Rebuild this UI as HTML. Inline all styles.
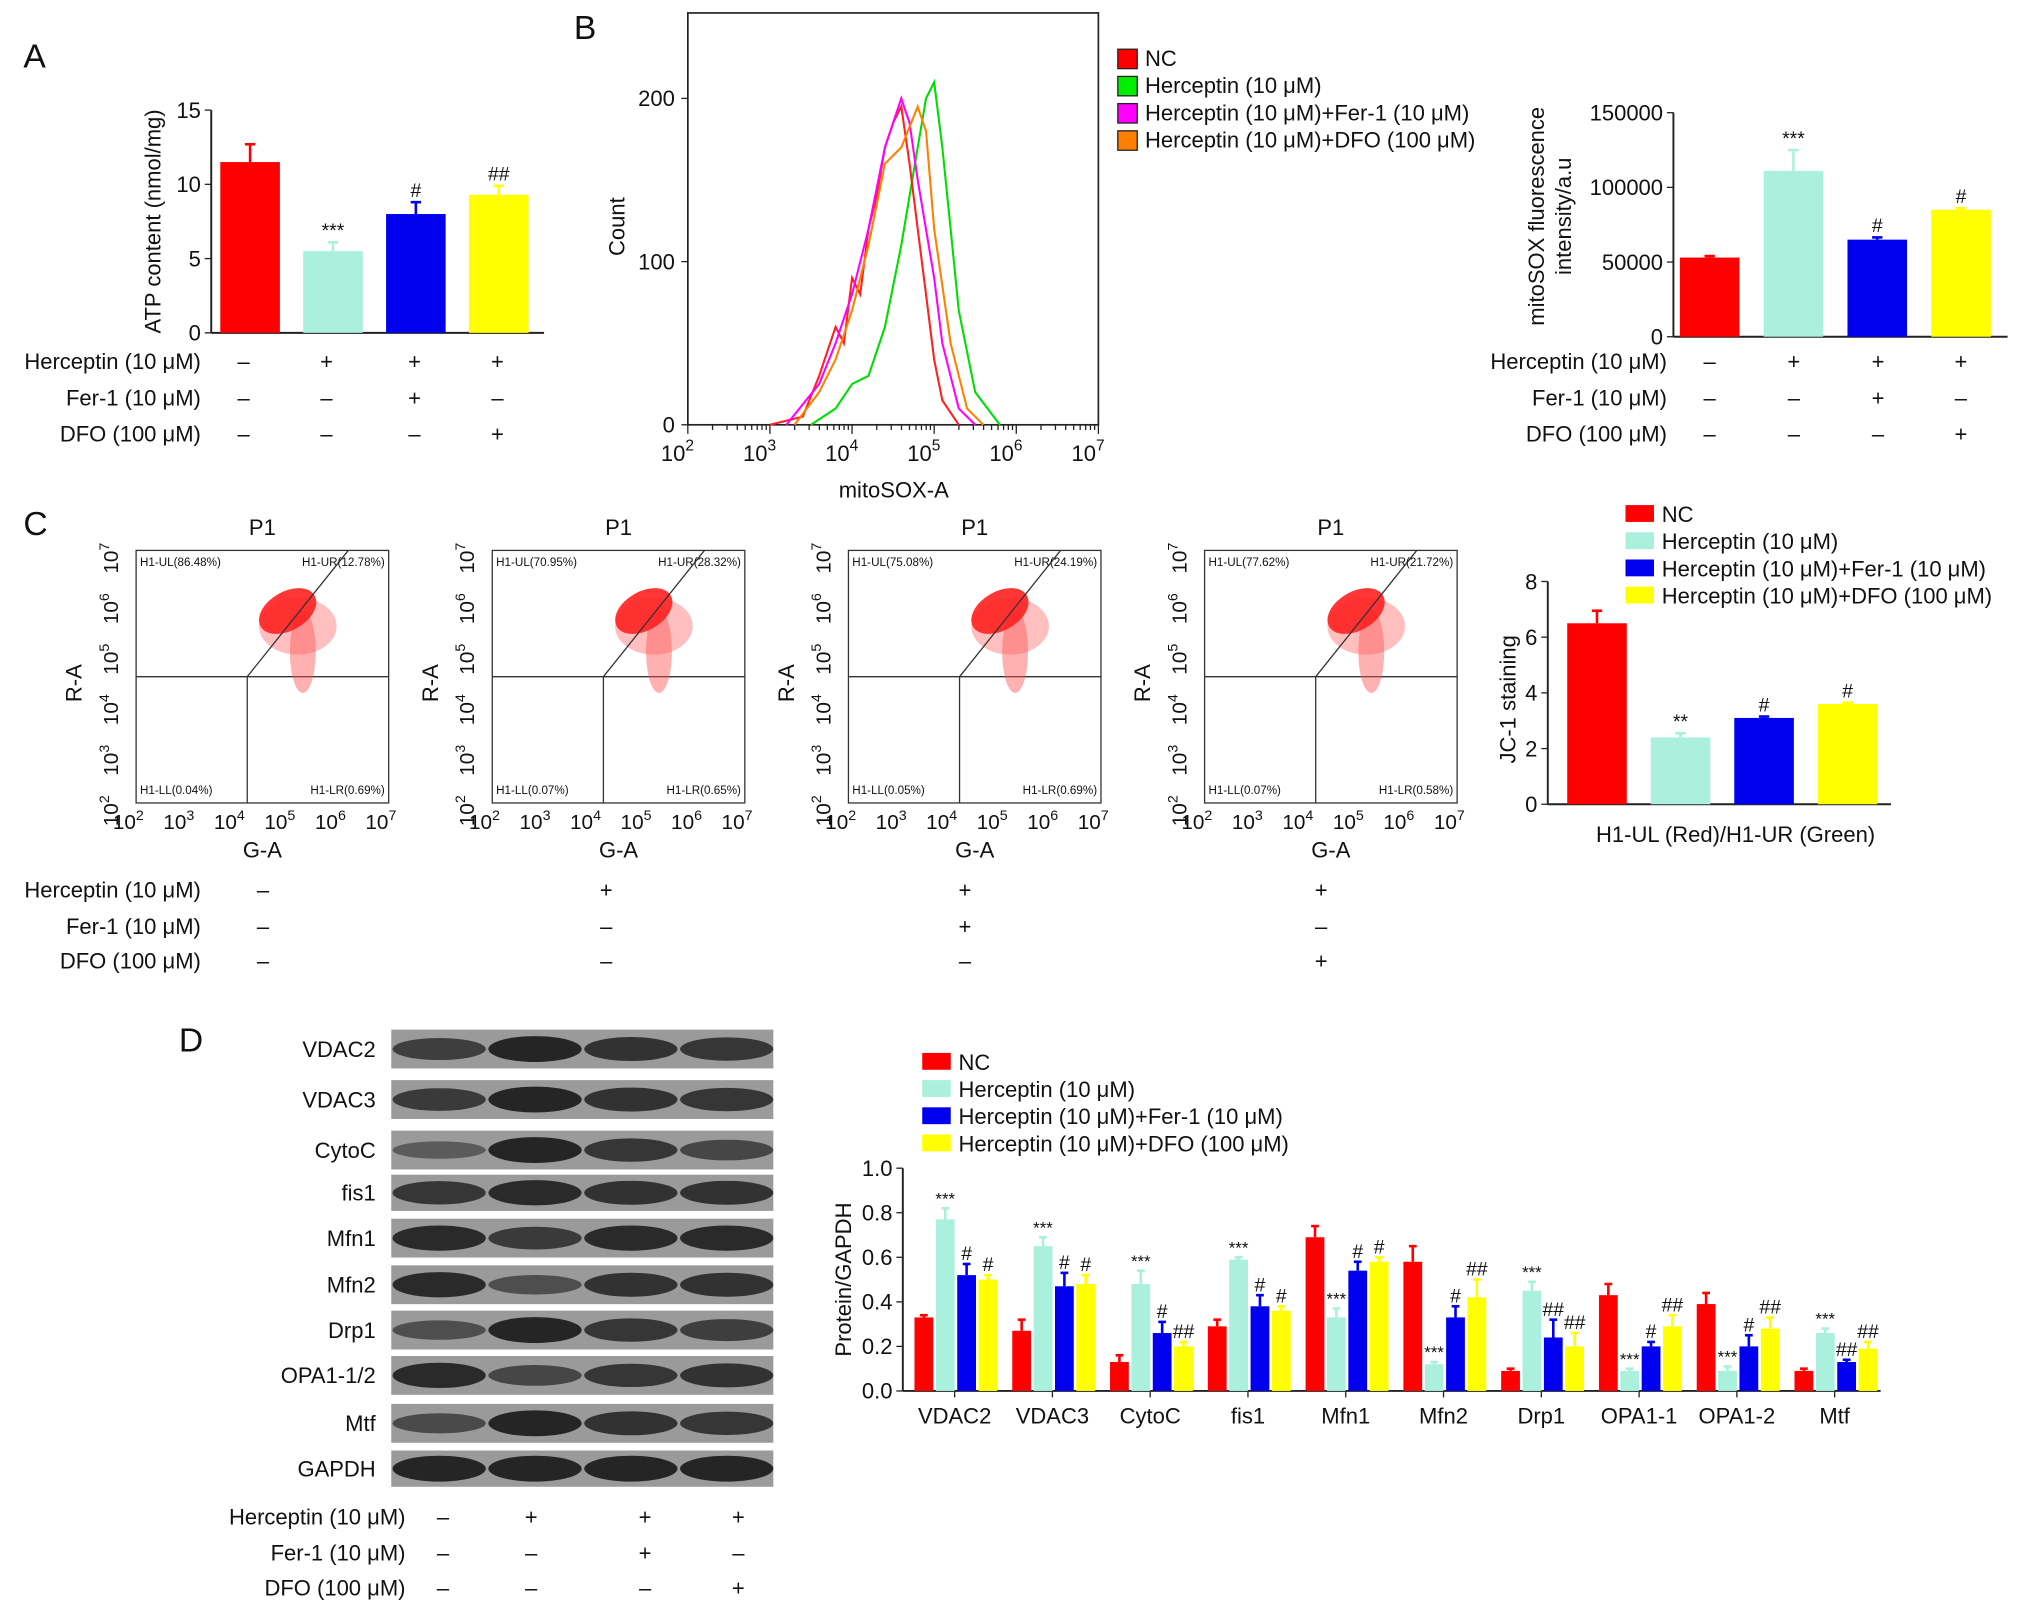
<!DOCTYPE html>
<html><head><meta charset="utf-8">
<style>
html,body{margin:0;padding:0;background:#fff;}
svg{display:block;font-family:"Liberation Sans",Arial,sans-serif;}
</style></head>
<body>
<svg id="fig" width="2031" height="1615" viewBox="0 0 1568 1247" xmlns="http://www.w3.org/2000/svg"></svg>
<script>
const NS="http://www.w3.org/2000/svg";
const svg=document.getElementById('fig');
const COLORS=['#ff0000','#aaf0dc','#0000ee','#ffff00'];
// Panel A data
const aValues=[11.5,5.5,8.0,9.3];
const aErr=[1.2,0.6,0.8,0.6];
const aMarks=['','***','#','##'];
const aTicks=[0,5,10,15];
// Panel B bar data
const bValues=[53000,111000,65000,85000];
const bErr=[1000,14000,1500,1000];
const bMarks=['','***','#','#'];
const bTicks=[0,50000,100000,150000];
// Panel B histogram data (log10 fluorescence, count)
const histLogX={
 green:[3.5,3.8,4.0,4.2,4.4,4.6,4.8,4.9,5.0,5.1,5.2,5.3,5.5,5.8],
 red:[3.0,3.4,3.6,3.8,3.9,4.0,4.1,4.2,4.3,4.4,4.5,4.6,4.7,4.8,4.9,5.0,5.1,5.3],
 magenta:[3.2,3.6,3.8,4.0,4.2,4.4,4.6,4.7,4.8,5.0,5.1,5.3,5.5],
 orange:[3.3,3.6,3.8,4.0,4.2,4.4,4.6,4.8,4.9,5.0,5.2,5.4,5.6]};
const histCount={
 green:[0,10,25,30,60,110,170,200,210,170,120,70,20,0],
 red:[0,5,30,60,50,90,80,120,140,170,185,195,160,120,80,40,15,0],
 magenta:[0,25,50,80,120,170,200,185,150,90,50,10,0],
 orange:[0,20,40,70,110,160,170,195,180,120,50,10,0]};
// Panel C data
const jcValues=[6.5,2.4,3.1,3.6];
const jcErr=[0.45,0.15,0.05,0.05];
const jcMarks=['','**','#','#'];
const jcTicks=[0,2,4,6,8];
const quadUL=['86.48%','70.95%','75.08%','77.62%'];
const quadUR=['12.78%','28.32%','24.19%','21.72%'];
const quadLL=['0.04%','0.07%','0.05%','0.07%'];
const quadLR=['0.69%','0.65%','0.69%','0.58%'];
// Panel D data
const dCats=['VDAC2','VDAC3','CytoC','fis1','Mfn1','Mfn2','Drp1','OPA1-1','OPA1-2','Mtf'];
const dNC=[0.33,0.27,0.13,0.29,0.69,0.58,0.09,0.43,0.39,0.09];
const dHer=[0.77,0.65,0.48,0.59,0.33,0.12,0.45,0.09,0.09,0.26];
const dFer=[0.52,0.47,0.26,0.38,0.54,0.33,0.24,0.20,0.20,0.13];
const dDFO=[0.50,0.48,0.20,0.36,0.58,0.42,0.20,0.29,0.28,0.19];
const dErrNC=[0.01,0.05,0.03,0.03,0.05,0.07,0.01,0.05,0.05,0.01];
const dErrHer=[0.05,0.04,0.06,0.01,0.04,0.01,0.04,0.01,0.02,0.02];
const dErrFer=[0.05,0.06,0.05,0.05,0.04,0.05,0.08,0.02,0.05,0.01];
const dErrDFO=[0.02,0.04,0.02,0.02,0.02,0.08,0.06,0.05,0.05,0.03];
const dMarkHer=['***','***','***','***','***','***','***','***','***','***'];
const dMarkFer=['#','#','#','#','#','#','##','#','#','##'];
const dMarkDFO=['#','#','##','#','#','##','##','##','##','##'];
const dTicks=[0.0,0.2,0.4,0.6,0.8,1.0];
const blotLabels=['VDAC2','VDAC3','CytoC','fis1','Mfn1','Mfn2','Drp1','OPA1-1/2','Mtf','GAPDH'];
const blotIntensity=[[0.7,1,0.85,0.8],[0.75,1,0.85,0.8],[0.35,1,0.8,0.6],[0.8,0.95,0.85,0.85],[0.95,0.75,0.95,0.95],[0.95,0.5,0.85,0.85],[0.5,1,0.8,0.7],[0.95,0.6,0.8,0.85],[0.55,1,0.85,0.8],[1,1,1,1]];

function el(tag,attrs,parent){const e=document.createElementNS(NS,tag);for(const k in attrs)e.setAttribute(k,attrs[k]);(parent||svg).appendChild(e);return e;}
function txt(x,y,s,size,anchor,parent,extra){const t=el('text',Object.assign({x:x,y:y,'font-size':size,'text-anchor':anchor||'start',fill:'#111'},extra||{}),parent);t.textContent=s;return t;}

function barChart(o){
 const g=el('g',{});
 
 
 const ys=v=>o.y0-(v-o.min)/(o.max-o.min)*(o.y0-o.y1);
 el('line',{x1:o.x0,y1:o.y1,x2:o.x0,y2:o.y0,stroke:'#222','stroke-width':1.5},g);
 el('line',{x1:o.x0,y1:o.y0,x2:o.xEnd,y2:o.y0,stroke:'#222','stroke-width':1.5},g);
 o.ticks.forEach((t,i)=>{const y=ys(t);el('line',{x1:o.x0-5,y1:y,x2:o.x0,y2:y,stroke:'#222'},g);txt(o.x0-8,y+6,String(t),o.fs||17,'end',g);});
 o.values.forEach((v,i)=>{
   const x=o.barX(i),w=o.barW;
   const b=el('rect',{x:x,y:ys(v),width:w,height:o.y0-ys(v),fill:o.colors[i]},g);
   
   
   const ye=ys(v+o.err[i]);
   el('line',{x1:x+w/2,y1:ys(v),x2:x+w/2,y2:ye,stroke:o.colors[i],'stroke-width':2},g);
   el('line',{x1:x+w/2-4,y1:ye,x2:x+w/2+4,y2:ye,stroke:o.colors[i],'stroke-width':2},g);
   if(o.marks[i])txt(x+w/2,ye-4,o.marks[i],o.markFs||15,'middle',g);
 });
 return g;
}
function condRows(x0labels,cols,ys,signs,fs){
 const labels=['Herceptin (10 μM)','Fer-1 (10 μM)','DFO (100 μM)'];
 const g=el('g',{});
 
 
 labels.forEach((l,r)=>{txt(x0labels,ys[r]+6,l,fs||17,'end',g);cols.forEach((c,j)=>txt(c,ys[r]+6,signs[r][j]?'+':'–',fs||17,'middle',g));});
}
const SIGNS=[[0,1,1,1],[0,0,1,0],[0,0,0,1]];

[['A',18,52],['B',443,30],['C',18,413],['D',138,812]].forEach(p=>{const t=txt(p[1],p[2],p[0],26,'start');});

// Panel A
barChart({name:'atp-bar-chart',x0:163,xEnd:420,y0:257,y1:85,min:0,max:15,ticks:aTicks,values:aValues,err:aErr,marks:aMarks,colors:COLORS,cat:['nc','herceptin','fer1','dfo'],barW:46,barX:i=>170+i*64});
{const t=txt(0,0,'ATP content (nmol/mg)',17,'middle',null,{transform:'translate(124,171) rotate(-90)'});}
condRows(155,[188,252,320,384],[279,307,335],SIGNS,17);

// Panel B histogram
{
 const g=el('g',{});
 const X0=531,X1=848,Y0=328,Y1=10;
 const xs=l=>X0+(l-2)/5*(X1-X0), ys=c=>Y0-c*1.26;
 el('rect',{x:X0,y:Y1,width:X1-X0,height:Y0-Y1,fill:'none',stroke:'#222','stroke-width':1.3},g);
 [0,100,200].forEach(t=>{el('line',{x1:X0-5,y1:ys(t),x2:X0,y2:ys(t),stroke:'#222'},g);txt(X0-10,ys(t)+6,String(t),17,'end',g);});
 for(let d=2;d<=7;d++){el('line',{x1:xs(d),y1:Y0,x2:xs(d),y2:Y0+7,stroke:'#222'},g);
   const t=txt(xs(d)-8,Y0+28,'10',17,'middle',g);const s=el('tspan',{'font-size':12,dy:-8},t);s.textContent=String(d);
   if(d<7)for(let k=2;k<10;k++){const x=xs(d+Math.log10(k));el('line',{x1:x,y1:Y0,x2:x,y2:Y0+4,stroke:'#222'},g);}}
 txt(690,Y0+56,'mitoSOX-A',17,'middle',g);
 txt(0,0,'Count',17,'middle',g,{transform:'translate(482,175) rotate(-90)'});
 const hc={green:'#00dd00',red:'#ff2020',magenta:'#ff00ff',orange:'#ff8000'};
 ['green','red','magenta','orange'].forEach(k=>{
   const pts=histLogX[k].map((l,i)=>xs(l).toFixed(1)+','+ys(histCount[k][i]).toFixed(1)).join(' ');
   const p=el('polyline',{points:pts,fill:'none',stroke:hc[k],'stroke-width':1.6},g);
   
 });
 const leg=['NC','Herceptin (10 μM)','Herceptin (10 μM)+Fer-1 (10 μM)','Herceptin (10 μM)+DFO (100 μM)'];
 const lc=['#ff0000','#00ee00','#ff00ff','#ff8000'];
 leg.forEach((s,i)=>{const r=el('rect',{x:863,y:38+i*21,width:15,height:15,fill:lc[i],stroke:'#222'},g);txt(884,51+i*21,s,17,'start',g);});
}
// Panel B bars
barChart({name:'mitosox-bar-chart',x0:1292,xEnd:1550,y0:260,y1:87,min:0,max:150000,ticks:bTicks,values:bValues,err:bErr,marks:bMarks,colors:COLORS,cat:['nc','herceptin','fer1','dfo'],barW:46,barX:i=>1297+i*64.7});
txt(0,0,'mitoSOX fluorescence',17,'middle',null,{transform:'translate(1192,167) rotate(-90)'});
txt(0,0,'intensity/a.u',17,'middle',null,{transform:'translate(1213,167) rotate(-90)'});
condRows(1287,[1320,1385,1450,1514],[279,307,335],SIGNS,17);

// Panel C scatter plots
for(let p=0;p<4;p++){
 const g=el('g',{});
 const X0=105+p*275,X1=X0+195,Y0=620,Y1=425;
 const xs=l=>X0+(l-2)/5*(X1-X0), ys=l=>Y0-(l-2)/5*(Y0-Y1);
 txt((X0+X1)/2,Y1-12,'P1',17,'middle',g);
 el('rect',{x:X0,y:Y1,width:X1-X0,height:Y0-Y1,fill:'none',stroke:'#333','stroke-width':1},g);
 const qx=xs(4.2),qy=ys(4.5);
 el('line',{x1:X0,y1:qy,x2:X1,y2:qy,stroke:'#333'},g);
 el('line',{x1:qx,y1:qy,x2:qx,y2:Y0,stroke:'#333'},g);
 el('ellipse',{cx:xs(5.3),cy:ys(5.0),rx:10,ry:32,fill:'#ff5050',opacity:0.45},g);
 el('ellipse',{cx:xs(5.2),cy:ys(5.5),rx:30,ry:22,fill:'#ff6060',opacity:0.4},g);
 el('ellipse',{cx:xs(5.0),cy:ys(5.8),rx:24,ry:15,fill:'#ff2020',opacity:0.9,transform:`rotate(-30 ${xs(5.0)} ${ys(5.8)})`},g);
 el('line',{x1:qx,y1:qy,x2:xs(6.2),y2:Y1,stroke:'#333'},g);
 for(let d=2;d<=7;d++){
  const t=txt(xs(d)-6,Y0+20,'10',16,'middle',g);const s=el('tspan',{'font-size':11,dy:-7},t);s.textContent=String(d);
  const t2=txt(0,0,'10',16,'middle',g,{transform:`translate(${X0-14},${ys(d)+6}) rotate(-90)`});const s2=el('tspan',{'font-size':11,dy:-7},t2);s2.textContent=String(d);
 }
 txt((X0+X1)/2,Y0+42,'G-A',17,'middle',g);
 txt(0,0,'R-A',17,'middle',g,{transform:`translate(${X0-42},${(Y0+Y1)/2+5}) rotate(-90)`});
 txt(X0+3,Y1+12,'H1-UL('+quadUL[p]+')',9,'start',g);
 txt(X1-3,Y1+12,'H1-UR('+quadUR[p]+')',9,'end',g);
 txt(X0+3,Y0-7,'H1-LL('+quadLL[p]+')',9,'start',g);
 txt(X1-3,Y0-7,'H1-LR('+quadLR[p]+')',9,'end',g);
}
condRows(155,[203,468,745,1020],[687,715,742],SIGNS,17);
// JC-1
barChart({name:'jc1-bar-chart',x0:1195,xEnd:1460,y0:621,y1:449,min:0,max:8,ticks:jcTicks,values:jcValues,err:jcErr,marks:jcMarks,colors:COLORS,cat:['nc','herceptin','fer1','dfo'],barW:46,barX:i=>1210+i*64.5});
txt(0,0,'JC-1 staining',17,'middle',null,{transform:'translate(1170,540) rotate(-90)'});
txt(1340,650,'H1-UL (Red)/H1-UR (Green)',17,'middle');
{const leg=['NC','Herceptin (10 μM)','Herceptin (10 μM)+Fer-1 (10 μM)','Herceptin (10 μM)+DFO (100 μM)'];
 leg.forEach((s,i)=>{const r=el('rect',{x:1255,y:390+i*21,width:22,height:13,fill:COLORS[i]});txt(1283,403+i*21,s,17,'start');});}

// Panel D blot
{
 const g=el('g',{});
 const rowY=[810,849,888,921,956,992,1027,1062,1099,1134];
 const rowH=[30,30,30,28,30,30,30,30,30,28];
 rowY.forEach((y,r)=>{
  el('rect',{x:302,y:y-rowH[r]/2,width:295,height:rowH[r],fill:'#9a9a9a'},g);
  blotIntensity[r].forEach((v,c)=>{
   el('ellipse',{cx:339+c*74,cy:y,rx:36,ry:5+5*v,fill:'#111',opacity:0.25+0.6*v},g);
  });
  txt(290,y+6,blotLabels[r],17,'end',g);
 });
 condRows(313,[342,410,498,570],[1171,1199,1226],SIGNS,17);
}
// Panel D bar chart
{
 const g=el('g',{});
 const X0=697,XE=1452,Y0=1074,Y1=902;
 const ys=v=>Y0-v/1.0*(Y0-Y1);
 el('line',{x1:X0,y1:Y1,x2:X0,y2:Y0,stroke:'#222','stroke-width':1.5},g);
 el('line',{x1:X0,y1:Y0,x2:XE,y2:Y0,stroke:'#222','stroke-width':1.5},g);
 dTicks.forEach(t=>{el('line',{x1:X0-5,y1:ys(t),x2:X0,y2:ys(t),stroke:'#222'},g);txt(X0-8,ys(t)+6,t.toFixed(1),17,'end',g);});
 const series=[dNC,dHer,dFer,dDFO],errs=[dErrNC,dErrHer,dErrFer,dErrDFO],marks=[null,dMarkHer,dMarkFer,dMarkDFO];
 const gw=75.5,bw=14.5;
 dCats.forEach((c,ci)=>{
  const gx=706+ci*gw;
  series.forEach((s,si)=>{
   const x=gx+si*16.5,v=s[ci];
   const b=el('rect',{x:x,y:ys(v),width:bw,height:Y0-ys(v),fill:COLORS[si]},g);
   
   const ye=ys(v+errs[si][ci]);
   el('line',{x1:x+bw/2,y1:ys(v),x2:x+bw/2,y2:ye,stroke:COLORS[si],'stroke-width':2},g);
   el('line',{x1:x+bw/2-3,y1:ye,x2:x+bw/2+3,y2:ye,stroke:COLORS[si],'stroke-width':2},g);
   if(marks[si])txt(x+bw/2,ye-3,marks[si][ci],si==1?13:15,'middle',g);
  });
  const cx=gx+31;
  el('line',{x1:cx,y1:Y0,x2:cx,y2:Y0+5,stroke:'#222'},g);
  txt(cx,Y0+25,c,17,'middle',g);
 });
 txt(0,0,'Protein/GAPDH',17,'middle',g,{transform:'translate(657,988) rotate(-90)'});
 const leg=['NC','Herceptin (10 μM)','Herceptin (10 μM)+Fer-1 (10 μM)','Herceptin (10 μM)+DFO (100 μM)'];
 leg.forEach((s,i)=>{const r=el('rect',{x:712,y:813+i*21,width:22,height:13,fill:COLORS[i]},g);txt(740,826+i*21,s,17,'start',g);});
}
</script>
</body></html>
